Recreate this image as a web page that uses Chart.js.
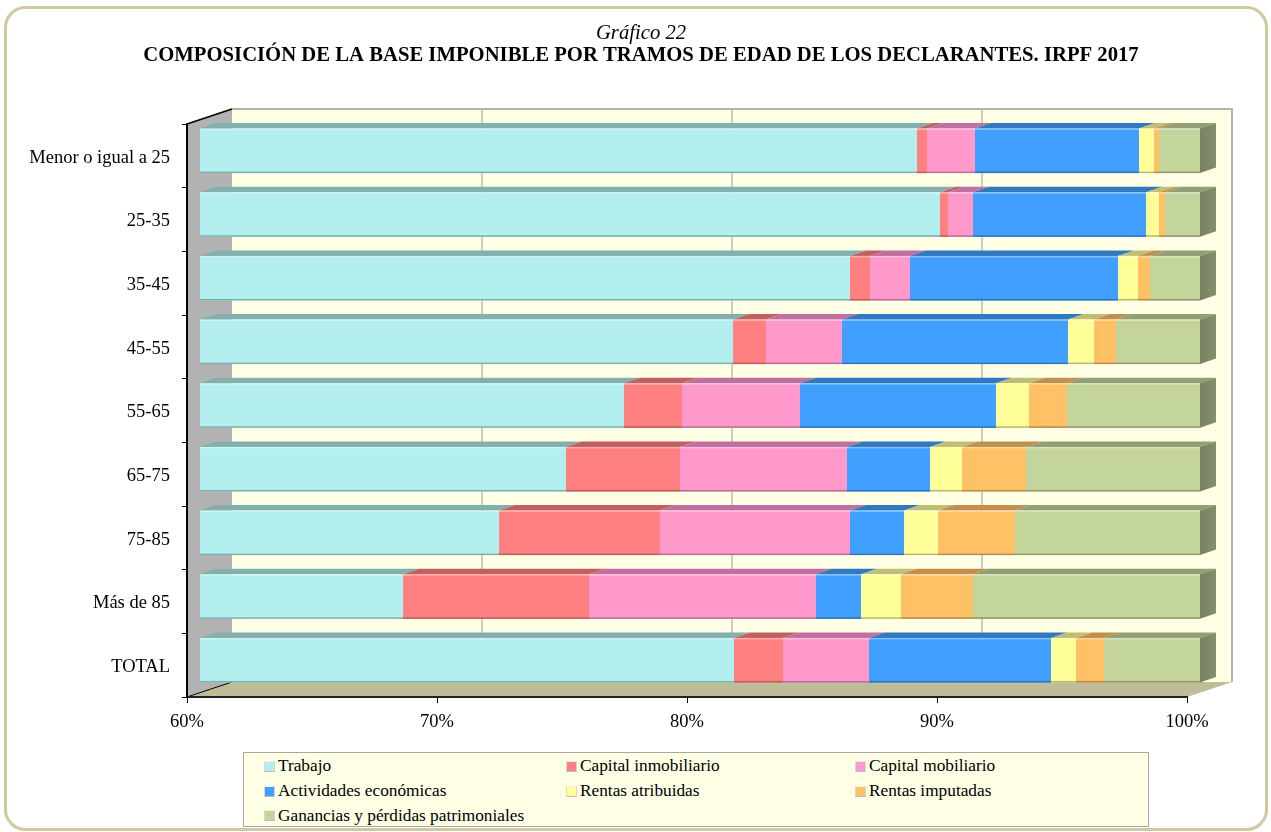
<!DOCTYPE html>
<html lang="es">
<head>
<meta charset="utf-8">
<title>Gráfico 22</title>
<script src="https://cdn.jsdelivr.net/npm/chart.js@4"></script>
<style>
    html, body { margin: 0; padding: 0; background: #fff; }
    #wrap { position: relative; width: 1271px; height: 832px; overflow: hidden; }
    #legend {
        position: absolute; left: 243px; top: 752px; width: 906px; height: 75px;
        box-sizing: border-box; background: #ffffe6; border: 1px solid #a8a8a0;
        padding: 1px 0 0 20px; display: grid;
        grid-template-columns: 302px 289px 1fr; grid-auto-rows: 24.8px;
        font: 17.3px "Liberation Serif", serif; color: #000;
    }
    #legend div { display: flex; align-items: center; }
    #legend i {
        width: 11px; height: 11px; margin-right: 3px; display: block; box-sizing: border-box;
        border: 1px solid; border-color: #eeeeea #d4d4d4 #bcbcbc #d8d8d8;
    }
</style>
</head>
<body>
<div id="wrap">
    <canvas id="chart" width="1271" height="832"></canvas>
    <div id="legend"></div>
</div>
<script>
// ========================================
// DATA (percentage points)
// ========================================
const categories = ['Menor o igual a 25', '25-35', '35-45', '45-55', '55-65', '65-75', '75-85', 'Más de 85', 'TOTAL'];
const seriesNames = ['Trabajo', 'Capital inmobiliario', 'Capital mobiliario', 'Actividades económicas',
    'Rentas atribuidas', 'Rentas imputadas', 'Ganancias y pérdidas patrimoniales'];
const xTicks = [60, 70, 80, 90, 100];

const trabajo = [88.68, 89.6, 86, 81.32, 76.96, 74.64, 71.96, 68.12, 81.36];
const capitalInmobiliario = [0.4, 0.32, 0.8, 1.32, 2.32, 4.56, 6.44, 7.44, 1.96];
const capitalMobiliario = [1.92, 1, 1.6, 3.04, 4.72, 6.68, 7.6, 9.08, 3.44];
const actividades = [6.56, 6.92, 8.32, 9.04, 7.84, 3.32, 2.16, 1.8, 7.28];
const rentasAtribuidas = [0.6, 0.52, 0.8, 1.04, 1.32, 1.28, 1.36, 1.6, 1];
const rentasImputadas = [0.2, 0.24, 0.48, 0.88, 1.52, 2.56, 3.08, 2.88, 1.12];
const ganancias = [1.64, 1.4, 2, 3.36, 5.32, 6.96, 7.4, 9.08, 3.84];

const seriesValues = [trabajo, capitalInmobiliario, capitalMobiliario, actividades, rentasAtribuidas, rentasImputadas, ganancias];

const frontColors = ['#b2efee', '#ff8080', '#ff99cc', '#419fff', '#ffff99', '#ffc166', '#c4d59b'];
const topColors = ['#82b0af', '#c06060', '#c0709f', '#3078c0', '#bfbf73', '#c1904f', '#929f73'];
const edgeColors = ['#7fb0af', '#b86060', '#b86f98', '#2f75ba', '#b8b86f', '#b88a4c', '#8e9a72'];

const SERIF = '"Liberation Serif", serif';
const WALL_DX = 45, WALL_DY = -15;   // depth of the chart box
const BAR_DX = 13, BAR_DY = -5;      // where the bars sit inside the box
const FACE_DX = 16, FACE_DY = -5.5;  // depth of each bar

function poly(ctx, points, fill) {
    ctx.beginPath();
    points.forEach((p, i) => (i ? ctx.lineTo(p[0], p[1]) : ctx.moveTo(p[0], p[1])));
    ctx.closePath();
    ctx.fillStyle = fill;
    ctx.fill();
}

// Outer frame, walls, floor and back gridlines
const boxPlugin = {
    id: 'box3d',
    afterLayout(chart) {
        // the category labels are wider than the scale, do not let it clip them
        chart.scales.y.left = 0;
    },
    beforeDraw(chart) {
        const { ctx, chartArea: a, scales } = chart;
        ctx.save();

        ctx.beginPath();
        ctx.roundRect(5.5, 7.5, 1261, 822, 20);
        ctx.strokeStyle = '#cfc8a0';
        ctx.lineWidth = 3;
        ctx.stroke();

        const backL = a.left + WALL_DX, backR = a.right + WALL_DX;
        const backT = a.top + WALL_DY, backB = a.bottom + WALL_DY;

        poly(ctx, [[backL, backT], [backR, backT], [backR, backB], [backL, backB]], '#ffffe6');
        poly(ctx, [[a.left, a.top], [backL, backT], [backL, backB], [a.left, a.bottom]], '#b2b2b2');
        poly(ctx, [[a.left, a.bottom], [backL, backB], [backR, backB], [a.right, a.bottom]], '#bfbd98');

        // gridlines on the back wall
        ctx.strokeStyle = '#bdbdb0';
        ctx.lineWidth = 1.5;
        xTicks.slice(1, -1).forEach(v => {
            const x = scales.x.getPixelForValue(v) + WALL_DX;
            ctx.beginPath();
            ctx.moveTo(x, backT);
            ctx.lineTo(x, backB);
            ctx.stroke();
        });

        // top and right border of the back wall
        ctx.strokeStyle = '#b4b4aa';
        ctx.lineWidth = 2;
        ctx.beginPath();
        ctx.moveTo(backL, backT);
        ctx.lineTo(backR, backT);
        ctx.lineTo(backR, backB);
        ctx.stroke();

        // black edges going into the box
        ctx.strokeStyle = '#000';
        ctx.lineWidth = 1.5;
        ctx.beginPath();
        ctx.moveTo(a.left, a.top);
        ctx.lineTo(backL, backT);
        ctx.stroke();
        ctx.lineWidth = 1;
        ctx.beginPath();
        ctx.moveTo(a.left, a.bottom);
        ctx.lineTo(backL, backB);
        ctx.stroke();

        ctx.restore();
    },
    beforeDatasetsDraw(chart) {
        const ctx = chart.ctx;
        ctx.save();
        ctx.translate(BAR_DX, BAR_DY);
        const axisLeft = chart.scales.x.left;

        // top face of every segment
        chart.data.datasets.forEach((ds, d) => {
            chart.getDatasetMeta(d).data.forEach(bar => {
                const { x, y, base, height } = bar.getProps(['x', 'y', 'base', 'height'], true);
                const t = y - height / 2;
                const from = Math.max(base, axisLeft);
                poly(ctx, [[from, t], [from + FACE_DX, t + FACE_DY], [x + FACE_DX, t + FACE_DY], [x, t]], topColors[d]);
            });
        });

        // right face of the stack
        const last = chart.data.datasets.length - 1;
        chart.getDatasetMeta(last).data.forEach(bar => {
            const { x, y, height } = bar.getProps(['x', 'y', 'height'], true);
            const t = y - height / 2, b = y + height / 2;
            const grad = ctx.createLinearGradient(x, 0, x + FACE_DX, 0);
            grad.addColorStop(0, '#78825f');
            grad.addColorStop(1, '#858f6e');
            poly(ctx, [[x, t], [x + FACE_DX, t + FACE_DY], [x + FACE_DX, b + FACE_DY], [x, b]], grad);
        });
    },
    afterDatasetsDraw(chart) {
        const ctx = chart.ctx;
        const axisLeft = chart.scales.x.left;

        // soft bevel along the front of each segment
        chart.data.datasets.forEach((ds, d) => {
            chart.getDatasetMeta(d).data.forEach(bar => {
                const { x, y, base, height } = bar.getProps(['x', 'y', 'base', 'height'], true);
                const from = Math.max(base, axisLeft);
                ctx.fillStyle = 'rgba(255,255,255,0.35)';
                ctx.fillRect(from, y - height / 2, x - from, 1.5);
                ctx.fillStyle = edgeColors[d];
                ctx.fillRect(from, y + height / 2 - 1.5, x - from, 1.5);
            });
        });
        ctx.restore();
    }
};

const chart = new Chart(document.getElementById('chart').getContext('2d'), {
    type: 'bar',
    data: {
        labels: categories,
        datasets: seriesNames.map((name, i) => ({
            label: name,
            data: seriesValues[i],
            backgroundColor: frontColors[i],
            borderWidth: 0,
            clip: { left: 0, right: false, top: false, bottom: false },
            categoryPercentage: 1,
            barPercentage: 0.7
        }))
    },
    options: {
        indexAxis: 'y',
        responsive: false,
        animation: false,
        layout: { padding: { left: 95, right: 84, top: 0, bottom: 0 } },
        plugins: {
            legend: { display: false },
            tooltip: { enabled: false },
            title: {
                display: true,
                text: 'Gráfico 22',
                color: '#000',
                font: { family: SERIF, style: 'italic', weight: 'normal', size: 20.7, lineHeight: 1 },
                padding: { top: 23, bottom: 0 }
            },
            subtitle: {
                display: true,
                text: 'COMPOSICIÓN DE LA BASE IMPONIBLE POR TRAMOS DE EDAD DE LOS DECLARANTES. IRPF 2017',
                color: '#000',
                font: { family: SERIF, weight: 'bold', size: 20.7, lineHeight: 1 },
                padding: { top: 1.5, bottom: 58.1 }
            }
        },
        scales: {
            x: {
                stacked: true,
                min: 60,
                max: 100,
                afterFit(scale) {
                    scale.height = 135;
                    scale.paddingLeft = 0;
                    scale.paddingRight = 0;
                },
                afterBuildTicks(scale) {
                    scale.ticks = xTicks.map(v => ({ value: v }));
                },
                grid: { drawOnChartArea: false, color: '#000', tickLength: 6 },
                border: { color: '#222', width: 2 },
                ticks: {
                    color: '#000',
                    maxRotation: 0,
                    padding: 8,
                    font: { family: SERIF, size: 18.5 },
                    callback: value => value + '%'
                }
            },
            y: {
                stacked: true,
                afterFit(scale) {
                    scale.width = 92;
                },
                grid: { drawOnChartArea: false, color: '#000', tickLength: 5 },
                border: { color: '#000', width: 2 },
                ticks: {
                    color: '#000',
                    padding: 12,
                    labelOffset: 2,
                    autoSkip: false,
                    font: { family: SERIF, size: 18.5 }
                }
            }
        }
    },
    plugins: [boxPlugin]
});

// Legend in three columns, built from the chart's own datasets
const legendBox = document.getElementById('legend');
chart.data.datasets.forEach(ds => {
    const item = document.createElement('div');
    const swatch = document.createElement('i');
    swatch.style.backgroundColor = ds.backgroundColor;
    item.appendChild(swatch);
    item.appendChild(document.createTextNode(ds.label));
    legendBox.appendChild(item);
});
</script>
</body>
</html>
